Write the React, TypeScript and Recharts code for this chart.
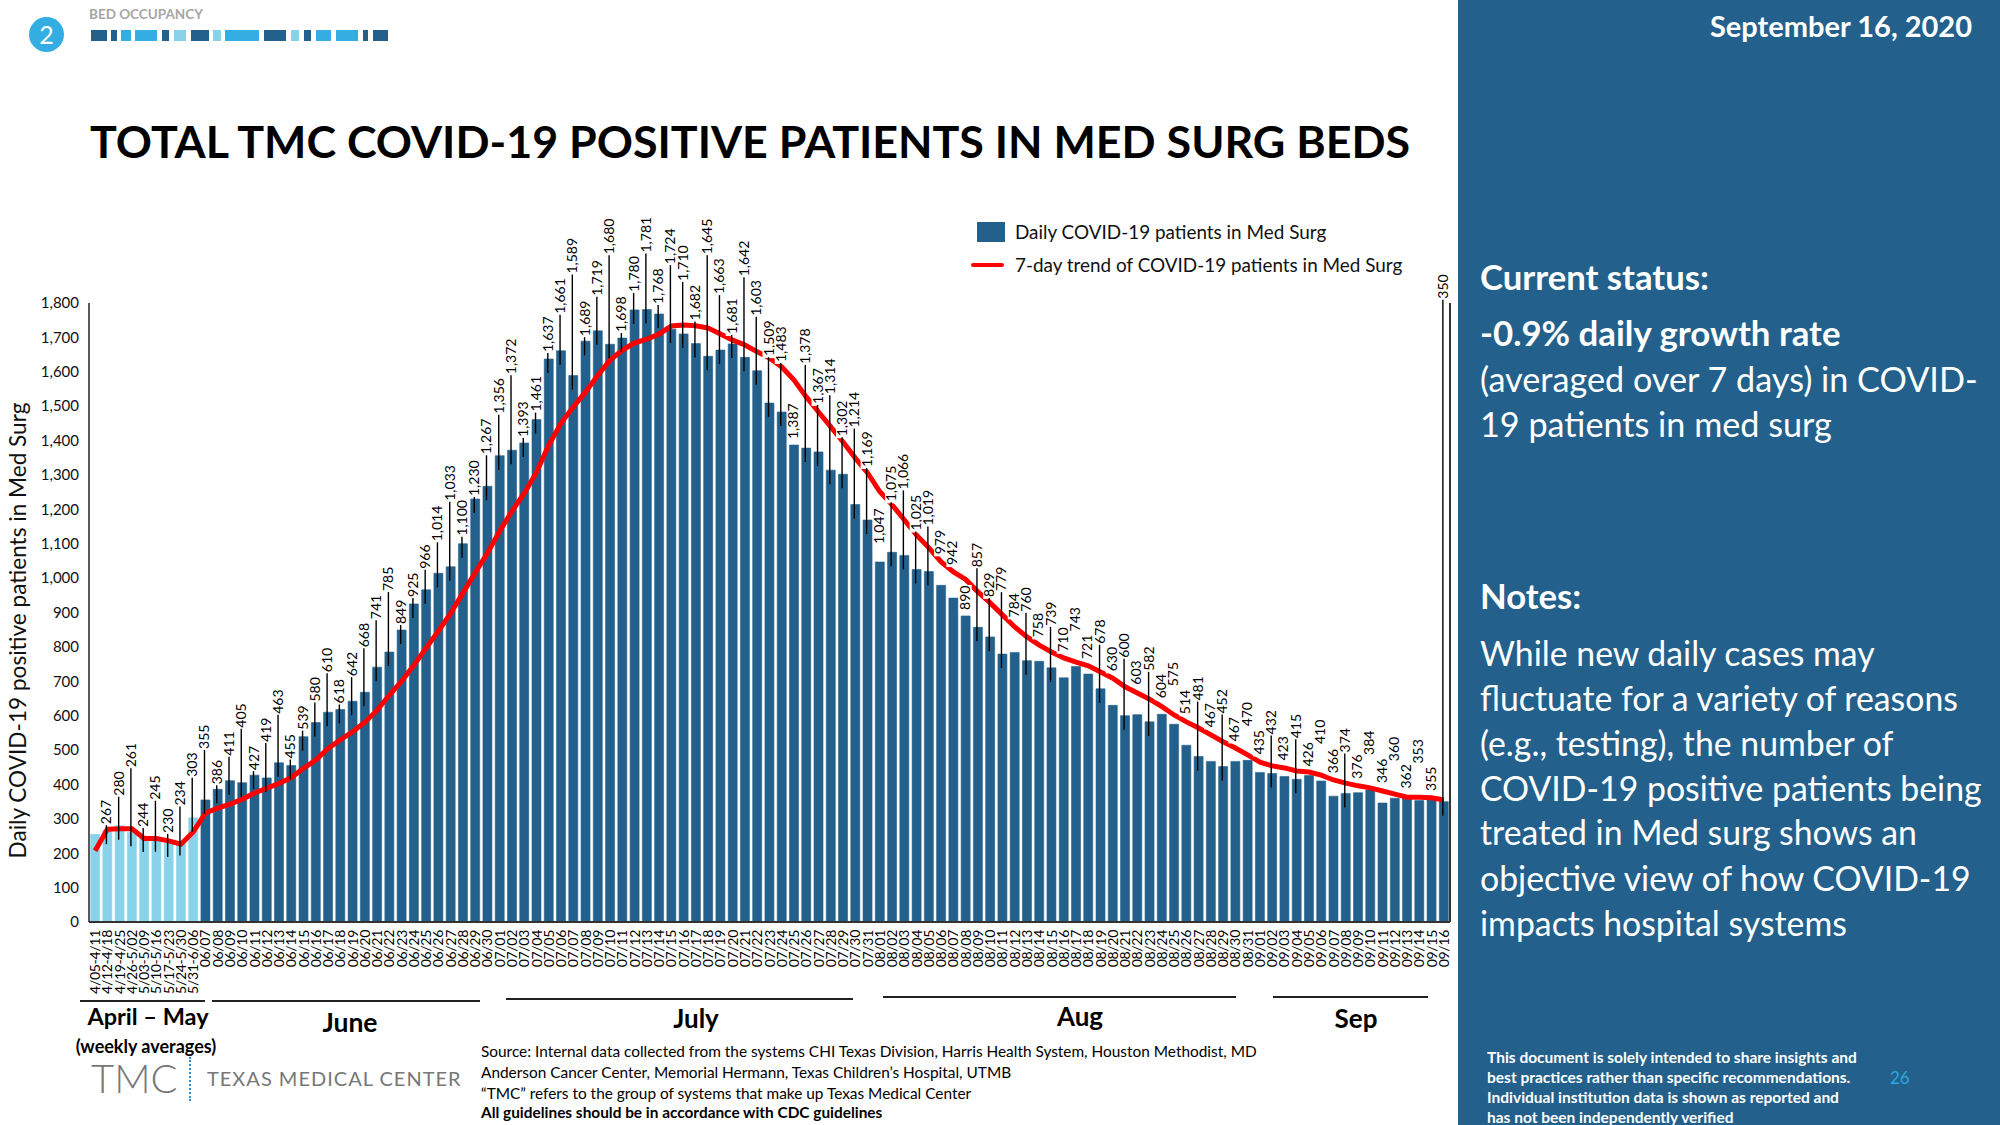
import { Bar, Cell, ComposedChart, LabelList, Legend, Line, XAxis, YAxis } from 'recharts';
import type { ReactNode } from 'react';

const weeklyRanges = ['4/05-4/11', '4/12-4/18', '4/19-4/25', '4/26-5/02', '5/03-5/09', '5/10-5/16', '5/17-5/23', '5/24-5/30', '5/31-6/06'];
const juneDays = ['06/07', '06/08', '06/09', '06/10', '06/11', '06/12', '06/13', '06/14', '06/15', '06/16', '06/17', '06/18', '06/19', '06/20', '06/21', '06/22', '06/23', '06/24', '06/25', '06/26', '06/27', '06/28', '06/29', '06/30'];
const julyDays = ['07/01', '07/02', '07/03', '07/04', '07/05', '07/06', '07/07', '07/08', '07/09', '07/10', '07/11', '07/12', '07/13', '07/14', '07/15', '07/16', '07/17', '07/18', '07/19', '07/20', '07/21', '07/22', '07/23', '07/24', '07/25', '07/26', '07/27', '07/28', '07/29', '07/30', '07/31'];
const augustDays = ['08/01', '08/02', '08/03', '08/04', '08/05', '08/06', '08/07', '08/08', '08/09', '08/10', '08/11', '08/12', '08/13', '08/14', '08/15', '08/16', '08/17', '08/18', '08/19', '08/20', '08/21', '08/22', '08/23', '08/24', '08/25', '08/26', '08/27', '08/28', '08/29', '08/30', '08/31'];
const septemberDays = ['09/01', '09/02', '09/03', '09/04', '09/05', '09/06', '09/07', '09/08', '09/09', '09/10', '09/11', '09/12', '09/13', '09/14', '09/15', '09/16'];

const weeklyValues = [255, 267, 280, 261, 244, 245, 230, 234, 303];
const juneValues = [355, 386, 411, 405, 427, 419, 463, 455, 539, 580, 610, 618, 642, 668, 741, 785, 849, 925, 966, 1014, 1033, 1100, 1230, 1267];
const julyValues = [1356, 1372, 1393, 1461, 1637, 1661, 1589, 1689, 1719, 1680, 1698, 1780, 1781, 1768, 1724, 1710, 1682, 1645, 1663, 1681, 1642, 1603, 1509, 1483, 1387, 1378, 1367, 1314, 1302, 1214, 1169];
const augustValues = [1047, 1075, 1066, 1025, 1019, 979, 942, 890, 857, 829, 779, 784, 760, 758, 739, 710, 743, 721, 678, 630, 600, 603, 582, 604, 575, 514, 481, 467, 452, 467, 470];
const septemberValues = [435, 432, 423, 415, 426, 410, 366, 374, 376, 384, 346, 360, 362, 353, 355, 350];

// one point per bar
const trendValues = [
  207, 270, 271, 271, 243, 243, 236, 226, 262,
  317, 331, 343, 357, 375, 389, 403, 420, 447, 471, 505, 530, 553, 581, 616, 660, 700, 747, 797, 846, 898, 957, 1016, 1073,
  1137, 1195, 1247, 1308, 1387, 1451, 1498, 1541, 1590, 1634, 1663, 1684, 1695, 1710, 1733, 1736, 1734, 1727, 1710, 1692, 1678, 1658, 1640, 1614, 1576, 1527, 1483, 1440, 1396, 1349, 1306,
  1251, 1213, 1169, 1125, 1088, 1047, 1018, 996, 960, 928, 893, 858, 829, 805, 785, 768, 756, 745, 727, 709, 684, 666, 648, 626, 602, 582, 564, 544, 524, 506, 486, 465, 454,
  448, 439, 436, 427, 413, 404, 396, 390, 381, 372, 363, 363, 361, 355,
];

// data labels sit this many px above their bar, the chart had them hand placed
const labelLifts = [
  0, 5, 29, 64, 10, 37, 9, 35, 40,
  50, 4, 24, 54, 4, 35, 48, 6, 6, 20, 39, 5, 24, 44, 47, 60, 5, 6, 20, 31, 65, 7, 2, 31,
  41, 75, 5, 7, 6, 36, 101, 4, 34, 89, 5, 17, 56, 9, 64, 52, 22, 101, 55, 9, 80, 54, 46, 49, 5, 83, 47, 75, 37, 76, 52,
  17, 50, 65, 38, 45, 30, 32, 5, 59, 39, 62, 34, 48, 23, 41, 25, 34, 14, 44, 33, 57, 29, 50, 15, 37, 30, 55, 33, 52, 19, 33,
  17, 38, 15, 40, 8, 36, 22, 40, 13, 34, 19, 36, 8, 36, 8, 502,
];
const unlabelled = ['4/05-4/11'];
const noLeaderLine = ['07/25', '08/01', '08/06', '08/07', '08/08', '08/12', '08/14', '08/16', '08/17', '08/18', '08/20', '08/22', '08/24', '08/25', '08/26', '08/28', '08/30', '08/31', '09/01', '09/03', '09/05', '09/06', '09/07', '09/09', '09/10', '09/11', '09/12', '09/13', '09/14', '09/15'];

const yTicks = [0, 100, 200, 300, 400, 500, 600, 700, 800, 900, 1000, 1100, 1200, 1300, 1400, 1500, 1600, 1700, 1800];

const periods = [...weeklyRanges, ...juneDays, ...julyDays, ...augustDays, ...septemberDays];
const patients = [...weeklyValues, ...juneValues, ...julyValues, ...augustValues, ...septemberValues];
const chartData = periods.map((period, i) => ({ period, patients: patients[i], trend: trendValues[i] }));

const NAVY = '#23618C';
const SKY = '#89D3EA';
const FONT = 'Lato, sans-serif';

const monthRules = [
  { left: 80, right: 205, y: 1000 },
  { left: 212, right: 480, y: 1000 },
  { left: 506, right: 853, y: 998 },
  { left: 883, right: 1236, y: 996 },
  { left: 1273, right: 1428, y: 996 },
];

const progressBlocks = [
  [91, 107, NAVY], [111, 117, NAVY], [121, 131, '#34ADE3'], [135, 157, '#34ADE3'], [162, 169, NAVY], [174, 186, SKY],
  [191, 209, NAVY], [213, 221, SKY], [225, 259, '#34ADE3'], [264, 286, NAVY], [291, 299, SKY], [304, 311, NAVY],
  [316, 331, '#34ADE3'], [336, 358, '#34ADE3'], [363, 368, NAVY], [373, 388, NAVY],
] as const;

function Txt({ x, y, size, bold, light, color = '#000', right, center, spacing, children }: {
  x: number; y: number; size: number; bold?: boolean; light?: boolean; color?: string; right?: boolean; center?: boolean; spacing?: number; children: ReactNode;
}) {
  const shift = center ? 'translate(-50%, -50%)' : right ? 'translate(-100%, -50%)' : 'translateY(-50%)';
  return (
    <div style={{ position: 'absolute', left: x, top: y, transform: shift, fontSize: size, fontWeight: bold ? 700 : light ? 300 : 400, color, whiteSpace: 'nowrap', letterSpacing: spacing, lineHeight: 1 }}>
      {children}
    </div>
  );
}

function PeriodTick({ x, y, payload }: any) {
  return (
    <text transform={`translate(${x + 5},${y + 6}) rotate(-90)`} textAnchor="end" fontSize={14} letterSpacing={-0.3} fontFamily={FONT} fill="#000">
      {payload.value}
    </text>
  );
}

function BarValueLabel({ x, y, value, index }: any) {
  const period = periods[index];
  if (unlabelled.includes(period)) return null;
  const lift = labelLifts[index];
  const text = Number(value).toLocaleString('en-US');
  const length = text.length > 3 ? 35 : 24;
  const bottom = y - lift;
  return (
    <g>
      <rect x={x - 7} y={bottom - length - 2} width={13} height={length + 3} fill="#fff" />
      {!noLeaderLine.includes(period) && <line x1={x - 1} x2={x - 1} y1={bottom} y2={y + 14} stroke="#000" strokeWidth={1.4} />}
      <text transform={`translate(${x + 4},${bottom - 1}) rotate(-90)`} fontSize={14} fontFamily={FONT} fill="#000">
        {text}
      </text>
    </g>
  );
}

function ChartLegend({ payload }: any) {
  // bars first, the way the slide lists them
  const rows = payload.filter((entry: any) => entry.type !== 'none').sort((a: any) => (a.type === 'line' ? 1 : -1));
  return (
    <div style={{ fontFamily: FONT, fontSize: 18.9, color: '#111' }}>
      {rows.map((entry: any) => (
        <div key={entry.value} style={{ display: 'flex', alignItems: 'center', height: 33, whiteSpace: 'nowrap' }}>
          {entry.type === 'line'
            ? <span style={{ width: 33, height: 4, borderRadius: 2, background: entry.color, marginRight: 11 }} />
            : <span style={{ width: 28, height: 20, background: entry.color, marginLeft: 6, marginRight: 10 }} />}
          {entry.value}
        </div>
      ))}
    </div>
  );
}

export default function App() {
  return (
    <div style={{ position: 'absolute', left: 0, top: 0, width: 2000, height: 1125, overflow: 'hidden', background: '#fff', fontFamily: FONT }}>
      <div style={{ position: 'absolute', left: 1458, top: 0, width: 542, height: 1125, background: NAVY }} />

      <div style={{ position: 'absolute', left: 29, top: 17, width: 35, height: 35, borderRadius: '50%', background: '#34ADE3', color: '#fff', fontSize: 25, textAlign: 'center', lineHeight: '35px' }}>2</div>
      <Txt x={89} y={15} size={13.5} bold color="#A6A6A6">BED OCCUPANCY</Txt>
      {progressBlocks.map(([left, right, color]) => (
        <div key={left} style={{ position: 'absolute', left, top: 30, width: right - left, height: 11, background: color }} />
      ))}

      <Txt x={90} y={141} size={44.8} bold>TOTAL TMC COVID-19 POSITIVE PATIENTS IN MED SURG BEDS</Txt>

      <div style={{ position: 'absolute', left: 0, top: 0 }}>
        <ComposedChart width={1453} height={1125} data={chartData} barCategoryGap="13%" margin={{ top: 303, right: 2, bottom: 143, left: 0 }}>
          <XAxis dataKey="period" interval={0} height={60} tickLine={false} tickSize={0} axisLine={{ stroke: '#333', strokeWidth: 2 }} tick={<PeriodTick />} />
          <YAxis
            width={89}
            domain={[0, 1800]}
            ticks={yTicks}
            interval={0}
            tickLine={false}
            tickSize={0}
            tickMargin={10}
            tickFormatter={(v: number) => v.toLocaleString('en-US')}
            axisLine={{ stroke: '#222', strokeWidth: 1.5 }}
            tick={{ fontSize: 15, fontFamily: FONT, fill: '#111' }}
            label={{ value: 'Daily COVID-19 positive patients in Med Surg', angle: -90, position: 'insideLeft', offset: 18, dy: 18, fontSize: 22.6, fontFamily: FONT, fill: '#111', style: { textAnchor: 'middle' } }}
          />
          {/* plain frame on the right edge, no ticks */}
          <YAxis yAxisId="frame" orientation="right" width={1} domain={[0, 1800]} tick={false} tickLine={false} axisLine={{ stroke: '#333', strokeWidth: 2 }} />
          <Legend
            layout="vertical"
            align="center"
            verticalAlign="middle"
            content={<ChartLegend />}
            wrapperStyle={{ left: 971, top: 215, width: 460 }}
          />
          <Bar dataKey="patients" name="Daily COVID-19 patients in Med Surg" fill={NAVY} isAnimationActive={false}>
            {chartData.map((row, i) => (
              <Cell key={row.period} fill={i < weeklyRanges.length ? SKY : NAVY} stroke={i < weeklyRanges.length ? SKY : NAVY} strokeWidth={0.6} />
            ))}
          </Bar>
          <Line dataKey="trend" name="7-day trend of COVID-19 patients in Med Surg" stroke="#FF0000" strokeWidth={5} dot={false} isAnimationActive={false} />
          {/* invisible line so the data labels paint over the red trend */}
          <Line dataKey="patients" stroke="none" dot={false} legendType="none" isAnimationActive={false}>
            <LabelList dataKey="patients" content={<BarValueLabel />} />
          </Line>
        </ComposedChart>
      </div>

      {monthRules.map(r => (
        <div key={r.left} style={{ position: 'absolute', left: r.left, top: r.y, width: r.right - r.left, height: 1.5, background: '#222' }} />
      ))}
      <Txt x={148} y={1017} size={23.5} bold center>April – May</Txt>
      <Txt x={350} y={1022} size={26.5} bold center>June</Txt>
      <Txt x={696} y={1018} size={26} bold center>July</Txt>
      <Txt x={1080} y={1016} size={26} bold center>Aug</Txt>
      <Txt x={1356} y={1018} size={26} bold center>Sep</Txt>
      <Txt x={146} y={1046} size={18} bold center>(weekly averages)</Txt>

      <Txt x={91} y={1078} size={40} light color="#777">TMC</Txt>
      <div style={{ position: 'absolute', left: 189, top: 1057, height: 44, borderLeft: '2px dotted #2E8FC4' }} />
      <Txt x={207} y={1078} size={20} color="#777" spacing={1}>TEXAS MEDICAL CENTER</Txt>

      <Txt x={481} y={1052} size={15.4}>Source: Internal data collected from the systems CHI Texas Division, Harris Health System, Houston Methodist, MD</Txt>
      <Txt x={481} y={1073} size={15.4}>Anderson Cancer Center, Memorial Hermann, Texas Children’s Hospital, UTMB</Txt>
      <Txt x={481} y={1094} size={15.4}>“TMC” refers to the group of systems that make up Texas Medical Center</Txt>
      <Txt x={481} y={1113} size={15.4} bold>All guidelines should be in accordance with CDC guidelines</Txt>

      <Txt x={1972} y={25} size={29} bold color="#fff" right>September 16, 2020</Txt>
      <Txt x={1480} y={277} size={34.7} bold color="#fff">Current status:</Txt>
      <Txt x={1480} y={333} size={34.8} bold color="#fff">-0.9% daily growth rate</Txt>
      <Txt x={1480} y={379} size={34.2} color="#fff">(averaged over 7 days) in COVID-</Txt>
      <Txt x={1480} y={424} size={34.2} color="#fff">19 patients in med surg</Txt>
      <Txt x={1480} y={596} size={34.7} bold color="#fff">Notes:</Txt>
      <Txt x={1480} y={654} size={33.8} color="#fff">While new daily cases may</Txt>
      <Txt x={1480} y={699} size={33.8} color="#fff">fluctuate for a variety of reasons</Txt>
      <Txt x={1480} y={744} size={33.8} color="#fff">(e.g., testing), the number of</Txt>
      <Txt x={1480} y={789} size={33.8} color="#fff">COVID-19 positive patients being</Txt>
      <Txt x={1480} y={833} size={33.8} color="#fff">treated in Med surg shows an</Txt>
      <Txt x={1480} y={879} size={33.8} color="#fff">objective view of how COVID-19</Txt>
      <Txt x={1480} y={924} size={33.8} color="#fff">impacts hospital systems</Txt>
      <Txt x={1487} y={1058} size={15.5} bold color="#fff">This document is solely intended to share insights and</Txt>
      <Txt x={1487} y={1078} size={15.5} bold color="#fff">best practices rather than specific recommendations.</Txt>
      <Txt x={1487} y={1098} size={15.5} bold color="#fff">Individual institution data is shown as reported and</Txt>
      <Txt x={1487} y={1118} size={15.5} bold color="#fff">has not been independently verified</Txt>
      <Txt x={1890} y={1077} size={17} color="#2EA6DC">26</Txt>
    </div>
  );
}
